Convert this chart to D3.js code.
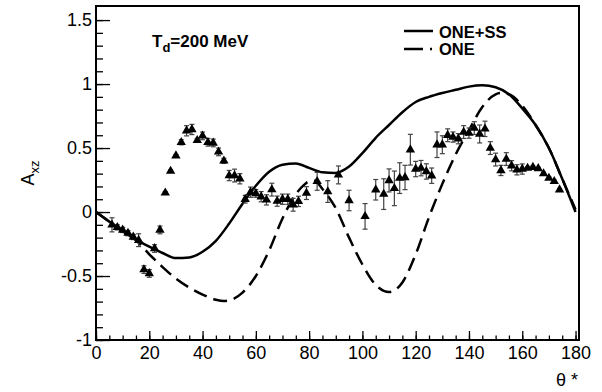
<!DOCTYPE html>
<html>
<head>
<meta charset="utf-8">
<script src="https://cdn.jsdelivr.net/npm/d3@7"></script>
<style>
  body { margin: 0; background: #fff; }
  svg { display: block; font-family: "Liberation Sans", Arial, sans-serif; }
</style>
</head>
<body>
<svg width="602" height="392"></svg>
<script>
// measured points (theta*, Axz, error)
const dataTheta = [6, 8, 10, 12, 14, 16, 18, 20, 22, 24, 26, 28, 30, 32, 34, 36, 38, 40, 42, 44, 46, 48, 50, 52, 54, 56, 58, 60, 62, 64, 66, 68, 70, 72, 74, 76, 79, 83, 87, 91, 95, 101, 105, 108, 110, 112, 114, 116, 118, 120, 122, 124, 126, 128, 130, 132, 134, 136, 138, 140, 142, 144, 146, 148, 150, 152, 154, 156, 158, 160, 162, 164, 166, 168, 170, 172, 174];
const dataAxz = [-0.10, -0.12, -0.14, -0.165, -0.195, -0.22, -0.45, -0.48, -0.285, -0.14, 0.15, 0.32, 0.44, 0.545, 0.635, 0.645, 0.56, 0.595, 0.545, 0.54, 0.47, 0.40, 0.285, 0.285, 0.26, 0.10, 0.155, 0.145, 0.12, 0.095, 0.175, 0.085, 0.10, 0.10, 0.057, 0.083, 0.148, 0.24, 0.16, 0.29, 0.09, -0.034, 0.174, 0.14, 0.247, 0.185, 0.265, 0.27, 0.487, 0.336, 0.343, 0.317, 0.284, 0.526, 0.526, 0.60, 0.586, 0.573, 0.625, 0.617, 0.656, 0.61, 0.65, 0.50, 0.41, 0.325, 0.414, 0.362, 0.33, 0.336, 0.343, 0.35, 0.34, 0.30, 0.265, 0.24, 0.174];
const dataErr = [0.055, 0.02, 0.02, 0.02, 0.02, 0.05, 0.03, 0.03, 0.03, 0.03, 0.01, 0.01, 0.01, 0.02, 0.04, 0.04, 0.015, 0.03, 0.03, 0.03, 0.03, 0.02, 0.04, 0.05, 0.04, 0.03, 0.04, 0.03, 0.04, 0.04, 0.05, 0.04, 0.04, 0.04, 0.05, 0.04, 0.05, 0.07, 0.085, 0.07, 0.08, 0.1, 0.08, 0.12, 0.09, 0.135, 0.12, 0.095, 0.12, 0.06, 0.06, 0.06, 0.06, 0.1, 0.07, 0.05, 0.04, 0.04, 0.05, 0.04, 0.05, 0.07, 0.06, 0.05, 0.05, 0.04, 0.05, 0.04, 0.04, 0.04, 0.01, 0.01, 0.01, 0.01, 0.01, 0.01, 0.01];

// ONE+SS curve
const ssTheta = [0, 5, 10, 15, 20, 25, 30, 35, 40, 45, 50, 55, 60, 65, 70, 75, 80, 85, 90, 95, 100, 105, 110, 115, 120, 125, 130, 135, 140, 145, 150, 155, 160, 165, 170, 175, 180];
const ssAxz = [0, -0.075, -0.15, -0.215, -0.27, -0.32, -0.36, -0.355, -0.31, -0.225, -0.09, 0.065, 0.205, 0.315, 0.37, 0.38, 0.345, 0.31, 0.305, 0.355, 0.46, 0.58, 0.68, 0.78, 0.86, 0.90, 0.93, 0.955, 0.98, 0.99, 0.975, 0.92, 0.81, 0.68, 0.50, 0.26, 0.0];

// ONE curve
const oneTheta = [0, 5, 10, 15, 20, 25, 30, 35, 40, 45, 48, 50, 55, 60, 65, 70, 75, 78, 80, 82, 85, 90, 95, 100, 105, 110, 115, 120, 125, 130, 135, 140, 145, 150, 152, 155, 160, 165, 170, 175, 180];
const oneAxz = [0, -0.075, -0.15, -0.22, -0.33, -0.43, -0.52, -0.59, -0.645, -0.685, -0.695, -0.69, -0.63, -0.5, -0.3, -0.05, 0.14, 0.21, 0.24, 0.245, 0.18, 0.03, -0.2, -0.41, -0.57, -0.625, -0.55, -0.33, -0.04, 0.22, 0.45, 0.64, 0.82, 0.92, 0.93, 0.92, 0.83, 0.68, 0.5, 0.26, 0.02];

const xMajorTicks = [0, 20, 40, 60, 80, 100, 120, 140, 160, 180];
const yMajorTicks = [-1, -0.5, 0, 0.5, 1, 1.5];

const svg = d3.select('svg');
const frame = { left: 96, right: 579, top: 6, bottom: 340 };

const x = d3.scaleLinear().domain([0, 181.3]).range([frame.left, frame.right]);
const y = d3.scaleLinear().domain([-1, 1.61]).range([frame.bottom, frame.top]);

// minor ticks
svg.append('g')
  .attr('transform', 'translate(0,' + frame.bottom + ')')
  .call(d3.axisBottom(x).tickValues(d3.range(0, 181, 5)).tickSize(-4.5).tickFormat(''))
  .call(g => g.select('.domain').remove());
svg.append('g')
  .attr('transform', 'translate(' + frame.left + ',0)')
  .call(d3.axisLeft(y).tickValues(d3.range(-10, 16, 1).map(d => d / 10)).tickSize(-7).tickFormat(''))
  .call(g => g.select('.domain').remove());

// major ticks with labels
const xAxis = svg.append('g')
  .attr('transform', 'translate(0,' + frame.bottom + ')')
  .call(d3.axisBottom(x).tickValues(xMajorTicks).tickSize(-9).tickPadding(6).tickFormat(d => String(d)));
xAxis.select('.domain').remove();
xAxis.selectAll('text').attr('font-size', 18).attr('font-family', '"Liberation Sans", Arial, sans-serif').attr('fill', '#000');

const yAxis = svg.append('g')
  .attr('transform', 'translate(' + frame.left + ',0)')
  .call(d3.axisLeft(y).tickValues(yMajorTicks).tickSize(-14).tickPadding(4).tickFormat(d => String(d)));
yAxis.select('.domain').remove();
yAxis.selectAll('text').attr('font-size', 18).attr('font-family', '"Liberation Sans", Arial, sans-serif').attr('fill', '#000');

svg.selectAll('.tick line').attr('stroke', '#000').attr('stroke-width', 1.3);

// frame
svg.append('rect')
  .attr('x', frame.left).attr('y', frame.top)
  .attr('width', frame.right - frame.left).attr('height', frame.bottom - frame.top)
  .attr('fill', 'none').attr('stroke', '#000').attr('stroke-width', 2);

// curves
const ssLine = d3.line().x((d, i) => x(ssTheta[i])).y(d => y(d)).curve(d3.curveMonotoneX);
const oneLine = d3.line().x((d, i) => x(oneTheta[i])).y(d => y(d)).curve(d3.curveMonotoneX);

svg.append('path')
  .attr('d', ssLine(ssAxz))
  .attr('fill', 'none').attr('stroke', '#000').attr('stroke-width', 2.5);
svg.append('path')
  .attr('d', oneLine(oneAxz))
  .attr('fill', 'none').attr('stroke', '#000').attr('stroke-width', 2.5)
  .attr('stroke-dasharray', '14,7');

// error bars
const pts = dataTheta.map((t, i) => ({ t: t, v: dataAxz[i], e: dataErr[i] }));
const eb = svg.append('g').attr('stroke', '#444').attr('stroke-width', 1.2);
eb.selectAll('line.v').data(pts).enter().append('line')
  .attr('x1', d => x(d.t)).attr('x2', d => x(d.t))
  .attr('y1', d => y(d.v - d.e)).attr('y2', d => y(d.v + d.e));
eb.selectAll('line.hi').data(pts).enter().append('line')
  .attr('x1', d => x(d.t) - 2.5).attr('x2', d => x(d.t) + 2.5)
  .attr('y1', d => y(d.v + d.e)).attr('y2', d => y(d.v + d.e));
eb.selectAll('line.lo').data(pts).enter().append('line')
  .attr('x1', d => x(d.t) - 2.5).attr('x2', d => x(d.t) + 2.5)
  .attr('y1', d => y(d.v - d.e)).attr('y2', d => y(d.v - d.e));

// markers
const tri = d3.symbol().type(d3.symbolTriangle).size(38);
svg.append('g').selectAll('path').data(pts).enter().append('path')
  .attr('d', tri)
  .attr('transform', d => 'translate(' + x(d.t) + ',' + y(d.v) + ')')
  .attr('fill', '#000');

// title
const title = svg.append('text')
  .attr('x', 152).attr('y', 47)
  .attr('font-size', 17).attr('font-weight', 'bold');
title.append('tspan').text('T');
title.append('tspan').attr('dy', 5).attr('font-size', 13).text('d');
title.append('tspan').attr('dy', -5).text('=200 MeV');

// legend
svg.append('line').attr('x1', 404).attr('x2', 433).attr('y1', 31).attr('y2', 31)
  .attr('stroke', '#000').attr('stroke-width', 2.5);
svg.append('line').attr('x1', 404).attr('x2', 433).attr('y1', 49).attr('y2', 49)
  .attr('stroke', '#000').attr('stroke-width', 2.5).attr('stroke-dasharray', '19,7,2,10');
svg.append('text').attr('x', 439).attr('y', 37.5)
  .attr('font-size', 16.5).attr('font-weight', 'bold').text('ONE+SS');
svg.append('text').attr('x', 439).attr('y', 55)
  .attr('font-size', 16.5).attr('font-weight', 'bold').text('ONE');

// axis titles
const yt = svg.append('text')
  .attr('transform', 'translate(34,173) rotate(-90)')
  .attr('text-anchor', 'middle')
  .attr('font-size', 18);
yt.append('tspan').text('A');
yt.append('tspan').attr('dy', 5).attr('font-size', 13).text('xz');

svg.append('text').attr('x', 578).attr('y', 386)
  .attr('text-anchor', 'end').attr('font-size', 18).text('θ *');
</script>
</body>
</html>
